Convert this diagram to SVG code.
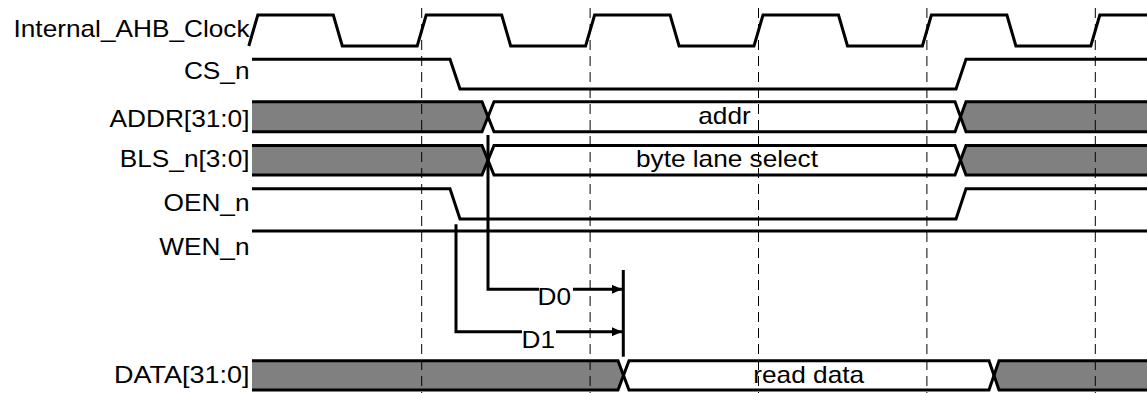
<svg xmlns="http://www.w3.org/2000/svg" width="1147" height="393" viewBox="0 0 1147 393">
<style>
.lbl{font-family:"Liberation Sans",Arial,sans-serif;font-size:23.4px;fill:#000;text-anchor:end}
.bt{font-family:"Liberation Sans",Arial,sans-serif;font-size:23.4px;fill:#000;text-anchor:middle}
.dt{font-family:"Liberation Sans",Arial,sans-serif;font-size:23.4px;fill:#000;text-anchor:start}
.sig{fill:none;stroke:#000;stroke-width:3;stroke-linejoin:miter}
.gray{fill:#808080;stroke:none}
.dash{fill:none;stroke:#000;stroke-width:1;stroke-dasharray:10 6}
.con{fill:none;stroke:#000;stroke-width:3}
</style>
<defs>
<marker id="arr" viewBox="0 0 10 9" refX="10" refY="4.5" markerWidth="10" markerHeight="9" markerUnits="userSpaceOnUse" orient="auto">
<path d="M0,0 L10,4.5 L0,9 Z" fill="#000"/>
</marker>
</defs>
<rect width="1147" height="393" fill="#fff"/>

<g id="clk">
<text class="lbl" x="249.5" y="37.3" textLength="236" lengthAdjust="spacingAndGlyphs">Internal_AHB_Clock</text>
<path class="sig" d="M248.8,46 L257.8,15 H333.3 L342.3,46 H417.2 L426.2,15 H501.7 L510.7,46 H585.6 L594.6,15 H670.1 L679.1,46 H754 L763,15 H838.5 L847.5,46 H922.4 L931.4,15 H1006.9 L1015.9,46 H1090.8 L1099.8,15 H1147"/>
</g>

<g id="cs">
<text class="lbl" x="249.5" y="79" textLength="65.6" lengthAdjust="spacingAndGlyphs">CS_n</text>
<path class="sig" d="M252,59.3 H450 L460,89 H956 L966,59.3 H1147"/>
</g>

<g id="addr">
<text class="lbl" x="249.5" y="127" textLength="140" lengthAdjust="spacingAndGlyphs">ADDR[31:0]</text>
<path class="gray" d="M252,101.7 H482 L488,116.7 L482,131.7 H252 Z"/>
<path class="gray" d="M1147,101.7 H966 L960.5,116.7 L966,131.7 H1147 Z"/>
<path class="sig" d="M252,101.7 H482 L494,131.7 H955 L966,101.7 H1147"/>
<path class="sig" d="M252,131.7 H482 L494,101.7 H955 L966,131.7 H1147"/>
<text class="bt" x="724.5" y="124" textLength="52.5" lengthAdjust="spacingAndGlyphs">addr</text>
</g>

<g id="bls">
<text class="lbl" x="249.5" y="166.7" textLength="129.7" lengthAdjust="spacingAndGlyphs">BLS_n[3:0]</text>
<path class="gray" d="M252,145.5 H482 L488,160.3 L482,175 H252 Z"/>
<path class="gray" d="M1147,145.5 H966 L960.5,160.3 L966,175 H1147 Z"/>
<path class="sig" d="M252,145.5 H482 L494,175 H955 L966,145.5 H1147"/>
<path class="sig" d="M252,175 H482 L494,145.5 H955 L966,175 H1147"/>
<text class="bt" x="727" y="166.7" textLength="182" lengthAdjust="spacingAndGlyphs">byte lane select</text>
</g>

<g id="oen">
<text class="lbl" x="249.5" y="211" textLength="86" lengthAdjust="spacingAndGlyphs">OEN_n</text>
<path class="sig" d="M252,188.7 H450 L460,219 H956 L966,188.7 H1147"/>
</g>

<g id="wen">
<text class="lbl" x="249.5" y="255" textLength="90.3" lengthAdjust="spacingAndGlyphs">WEN_n</text>
<path class="sig" d="M252,231 H1147"/>
</g>

<g id="data">
<text class="lbl" x="249.5" y="383.3" textLength="135.5" lengthAdjust="spacingAndGlyphs">DATA[31:0]</text>
<path class="gray" d="M252,360.7 H618 L623.5,375.3 L618,390 H252 Z"/>
<path class="gray" d="M1147,360.7 H999 L994,375.3 L999,390 H1147 Z"/>
<path class="sig" d="M252,360.7 H618 L629,390 H989 L999,360.7 H1147"/>
<path class="sig" d="M252,390 H618 L629,360.7 H989 L999,390 H1147"/>
<text class="bt" x="808.7" y="383.3" textLength="110.8" lengthAdjust="spacingAndGlyphs">read data</text>
</g>

<g id="connectors">
<path class="con" d="M488,135 V289.3 H539" />
<path class="con" d="M573,289.3 H622" marker-end="url(#arr)"/>
<path class="con" d="M456,224.3 V331.7 H522" />
<path class="con" d="M556,331.7 H622" marker-end="url(#arr)"/>
<path class="con" d="M623.3,270 V356.7"/>
<text class="dt" x="537.5" y="305" textLength="33.5" lengthAdjust="spacingAndGlyphs">D0</text>
<text class="dt" x="521.5" y="348.3" textLength="33.5" lengthAdjust="spacingAndGlyphs">D1</text>
</g>

<g id="gridlines">
<path class="dash" d="M421.7,8 V393 M590.1,8 V393 M758.5,8 V393 M926.9,8 V393 M1095.3,8 V393"/>
</g>
</svg>
